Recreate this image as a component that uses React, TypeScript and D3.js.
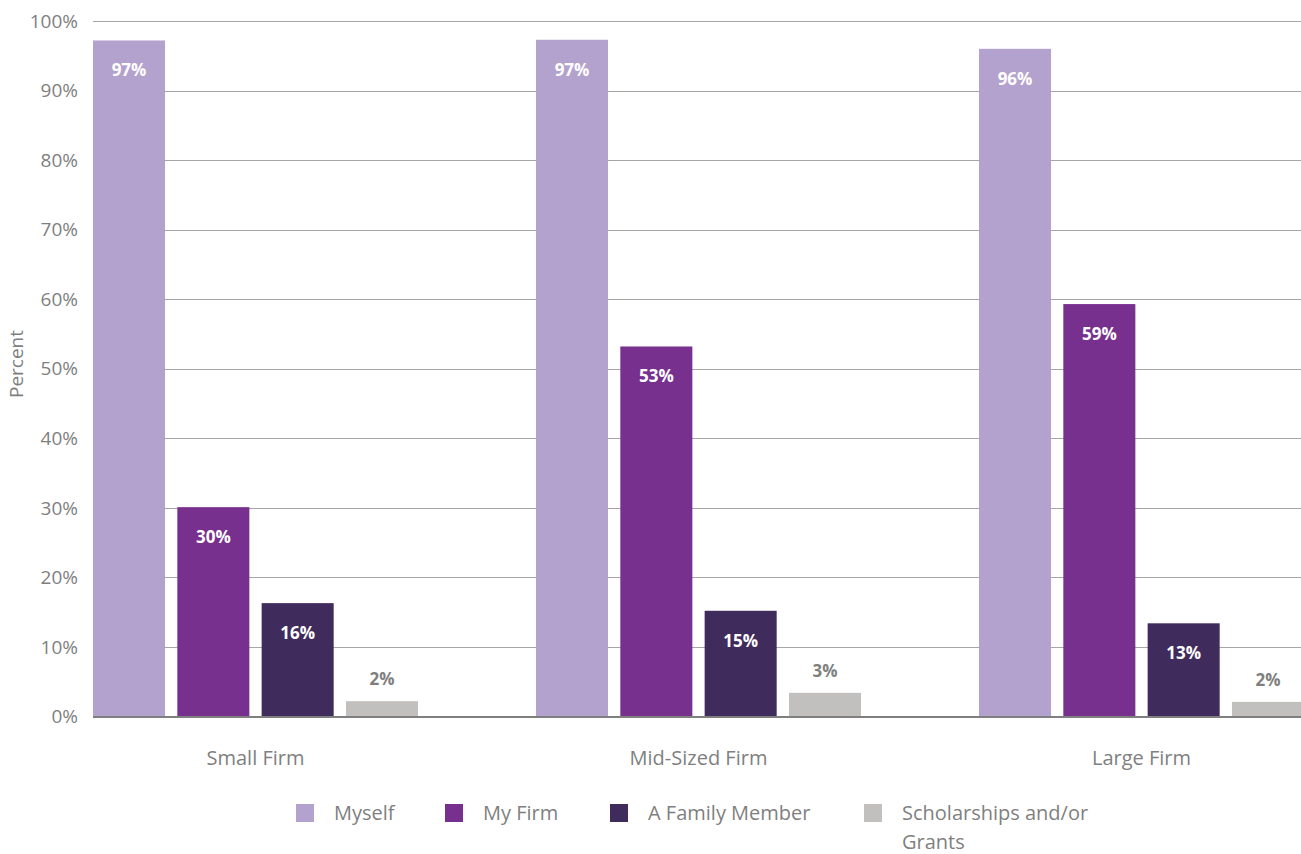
import React from "react";
import * as d3 from "d3";

const categories = ["Small Firm", "Mid-Sized Firm", "Large Firm"];
const seriesNames = ["Myself", "My Firm", "A Family Member", "Scholarships and/or Grants"];
const myself = [97.2, 97.3, 96.0];
const myFirm = [30.1, 53.2, 59.3];
const familyMember = [16.3, 15.2, 13.4];
const scholarships = [2.2, 3.4, 2.1];
const yTicks = [0, 10, 20, 30, 40, 50, 60, 70, 80, 90, 100];
const colors = ["#b3a2cd", "#77308e", "#3f2b5c", "#c1c0bf"];

const seriesValues = [myself, myFirm, familyMember, scholarships];

const W = 1301;
const H = 854;
const FONT = "'Open Sans', 'Noto Sans', sans-serif";

export default function App() {
  const plotLeft = 93;
  const plotRight = 1301;
  const groupW = 443;
  const innerW = 325;
  const y = d3.scaleLinear().domain([0, 100]).range([716.5, 21]);
  const x0 = d3
    .scaleBand<string>()
    .domain(categories)
    .range([34, 34 + 3 * groupW])
    .paddingInner(0)
    .paddingOuter(0);
  const x1 = d3
    .scaleBand<string>()
    .domain(seriesNames)
    .range([(groupW - innerW) / 2, (groupW - innerW) / 2 + innerW])
    .paddingInner(12.3 / 84.3)
    .paddingOuter(0);

  const legendX = [296, 445, 610, 864];

  return (
    <svg
      width={W}
      height={H}
      style={{ position: "absolute", left: 0, top: 0, background: "#fff" }}
      fontFamily={FONT}
    >
      {/* gridlines */}
      {yTicks.slice(1).map((t) => (
        <line
          key={t}
          x1={plotLeft}
          x2={plotRight}
          y1={Math.round(y(t)) + 0.5}
          y2={Math.round(y(t)) + 0.5}
          stroke="#a6a6a6"
          strokeWidth={1}
        />
      ))}
      {/* y tick labels */}
      {yTicks.map((t) => (
        <text
          key={"l" + t}
          x={78}
          y={y(t)}
          dy="0.35em"
          textAnchor="end"
          fontSize={19}
          fill="#7f7f7f"
        >
          {t}%
        </text>
      ))}
      <text
        transform={`translate(23,364) rotate(-90)`}
        textAnchor="middle"
        fontSize={19}
        fill="#7f7f7f"
      >
        Percent
      </text>
      {/* bars */}
      {categories.map((c, ci) => (
        <g key={c} transform={`translate(${x0(c)},0)`}>
          {seriesNames.map((s, si) => {
            const v = seriesValues[si][ci];
            const bx = x1(s)!;
            const bw = x1.bandwidth();
            const top = y(v);
            const label = `${Math.round(v)}%`;
            const inside = si < 3;
            return (
              <g key={s}>
                <rect x={bx} y={top} width={bw} height={y(0) - top} fill={colors[si]} />
                <text
                  x={bx + bw / 2}
                  y={inside ? top + 36 : top - 16}
                  textAnchor="middle"
                  fontSize={17}
                  fontWeight="bold"
                  fill={inside ? "#ffffff" : "#7f7f7f"}
                >
                  {label}
                </text>
              </g>
            );
          })}
          <text
            x={x0.bandwidth() / 2}
            y={765}
            textAnchor="middle"
            fontSize={20}
            fill="#7f7f7f"
          >
            {c}
          </text>
        </g>
      ))}
      {/* baseline */}
      <line x1={plotLeft} x2={plotRight} y1={717} y2={717} stroke="#7f7f7f" strokeWidth={2} />
      {/* legend */}
      {seriesNames.map((s, i) => {
        const lines = i === 3 ? ["Scholarships and/or", "Grants"] : [s];
        return (
          <g key={"lg" + s}>
            <rect x={legendX[i]} y={804} width={18} height={18} fill={colors[i]} />
            <text x={legendX[i] + 38} y={820} fontSize={20} fill="#7f7f7f">
              {lines.map((ln, li) => (
                <tspan key={li} x={legendX[i] + 38} dy={li === 0 ? 0 + "" : "29"}>
                  {ln}
                </tspan>
              ))}
            </text>
          </g>
        );
      })}
    </svg>
  );
}
